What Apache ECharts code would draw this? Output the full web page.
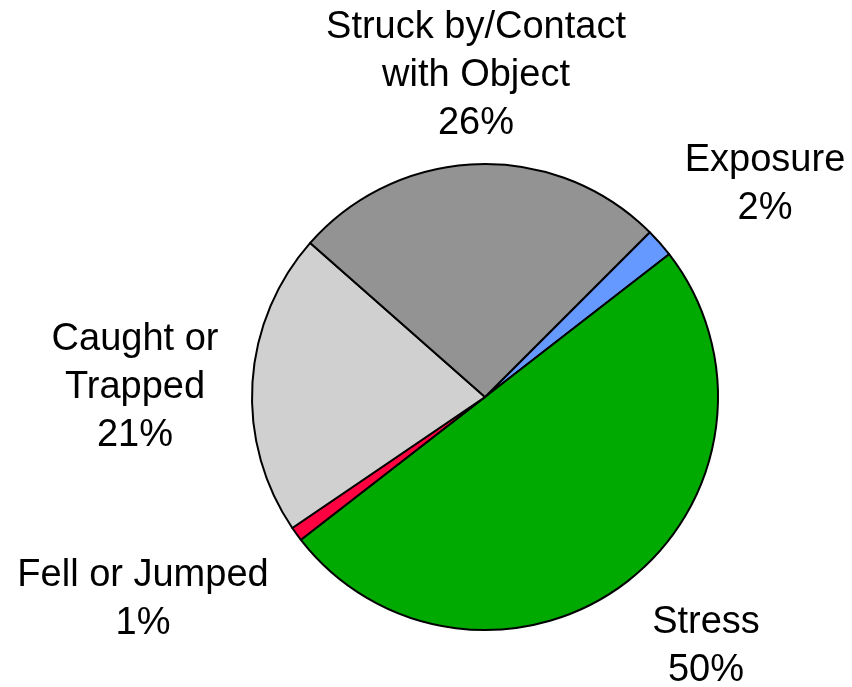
<!DOCTYPE html>
<html>
<head>
<meta charset="utf-8">
<script src="https://cdn.jsdelivr.net/npm/echarts@6/dist/echarts.min.js"></script>
<style>html,body{margin:0;padding:0;background:#fff;}#c{width:852px;height:687px;}</style>
</head>
<body>
<div id="c"></div>
<script>
var categories = ['Exposure', 'Stress', 'Fell or Jumped', 'Caught or Trapped', 'Struck by/Contact with Object'];
var labelTexts = ['Exposure\n2%', 'Stress\n50%', 'Fell or Jumped\n1%', 'Caught or\nTrapped\n21%', 'Struck by/Contact\nwith Object\n26%'];
var values = [2, 50, 1, 21, 26];
var colors = ['#6699FF', '#00AA00', '#FF0040', '#D0D0D0', '#939393'];
var labelPos = [[765, 185], [706, 647], [143, 600], [135, 388], [476, 76]];

var chart = echarts.init(document.getElementById('c'), null, {renderer: 'canvas'});
var data = categories.map(function (c, i) {
  return {name: c, value: values[i], itemStyle: {color: colors[i]}};
});
chart.setOption({
  animation: false,
  backgroundColor: '#fff',
  series: [{
    type: 'pie',
    center: [485, 397],
    radius: 233,
    startAngle: 45,
    clockwise: true,
    data: data,
    itemStyle: {borderColor: '#000', borderWidth: 2},
    emphasis: {disabled: true},
    labelLine: {show: false},
    label: {
      show: true,
      position: 'outside',
      overflow: 'none',
      edgeDistance: 0,
      bleedMargin: 0,
      formatter: function (p) { return labelTexts[p.dataIndex]; },
      fontFamily: 'Liberation Sans, Arial, sans-serif',
      fontSize: 38,
      lineHeight: 48,
      color: '#000',
      align: 'center'
    },
    labelLayout: function (p) {
      var pos = labelPos[p.dataIndex];
      return {x: pos[0], y: pos[1], align: 'center', verticalAlign: 'middle'};
    }
  }]
});
</script>
</body>
</html>
